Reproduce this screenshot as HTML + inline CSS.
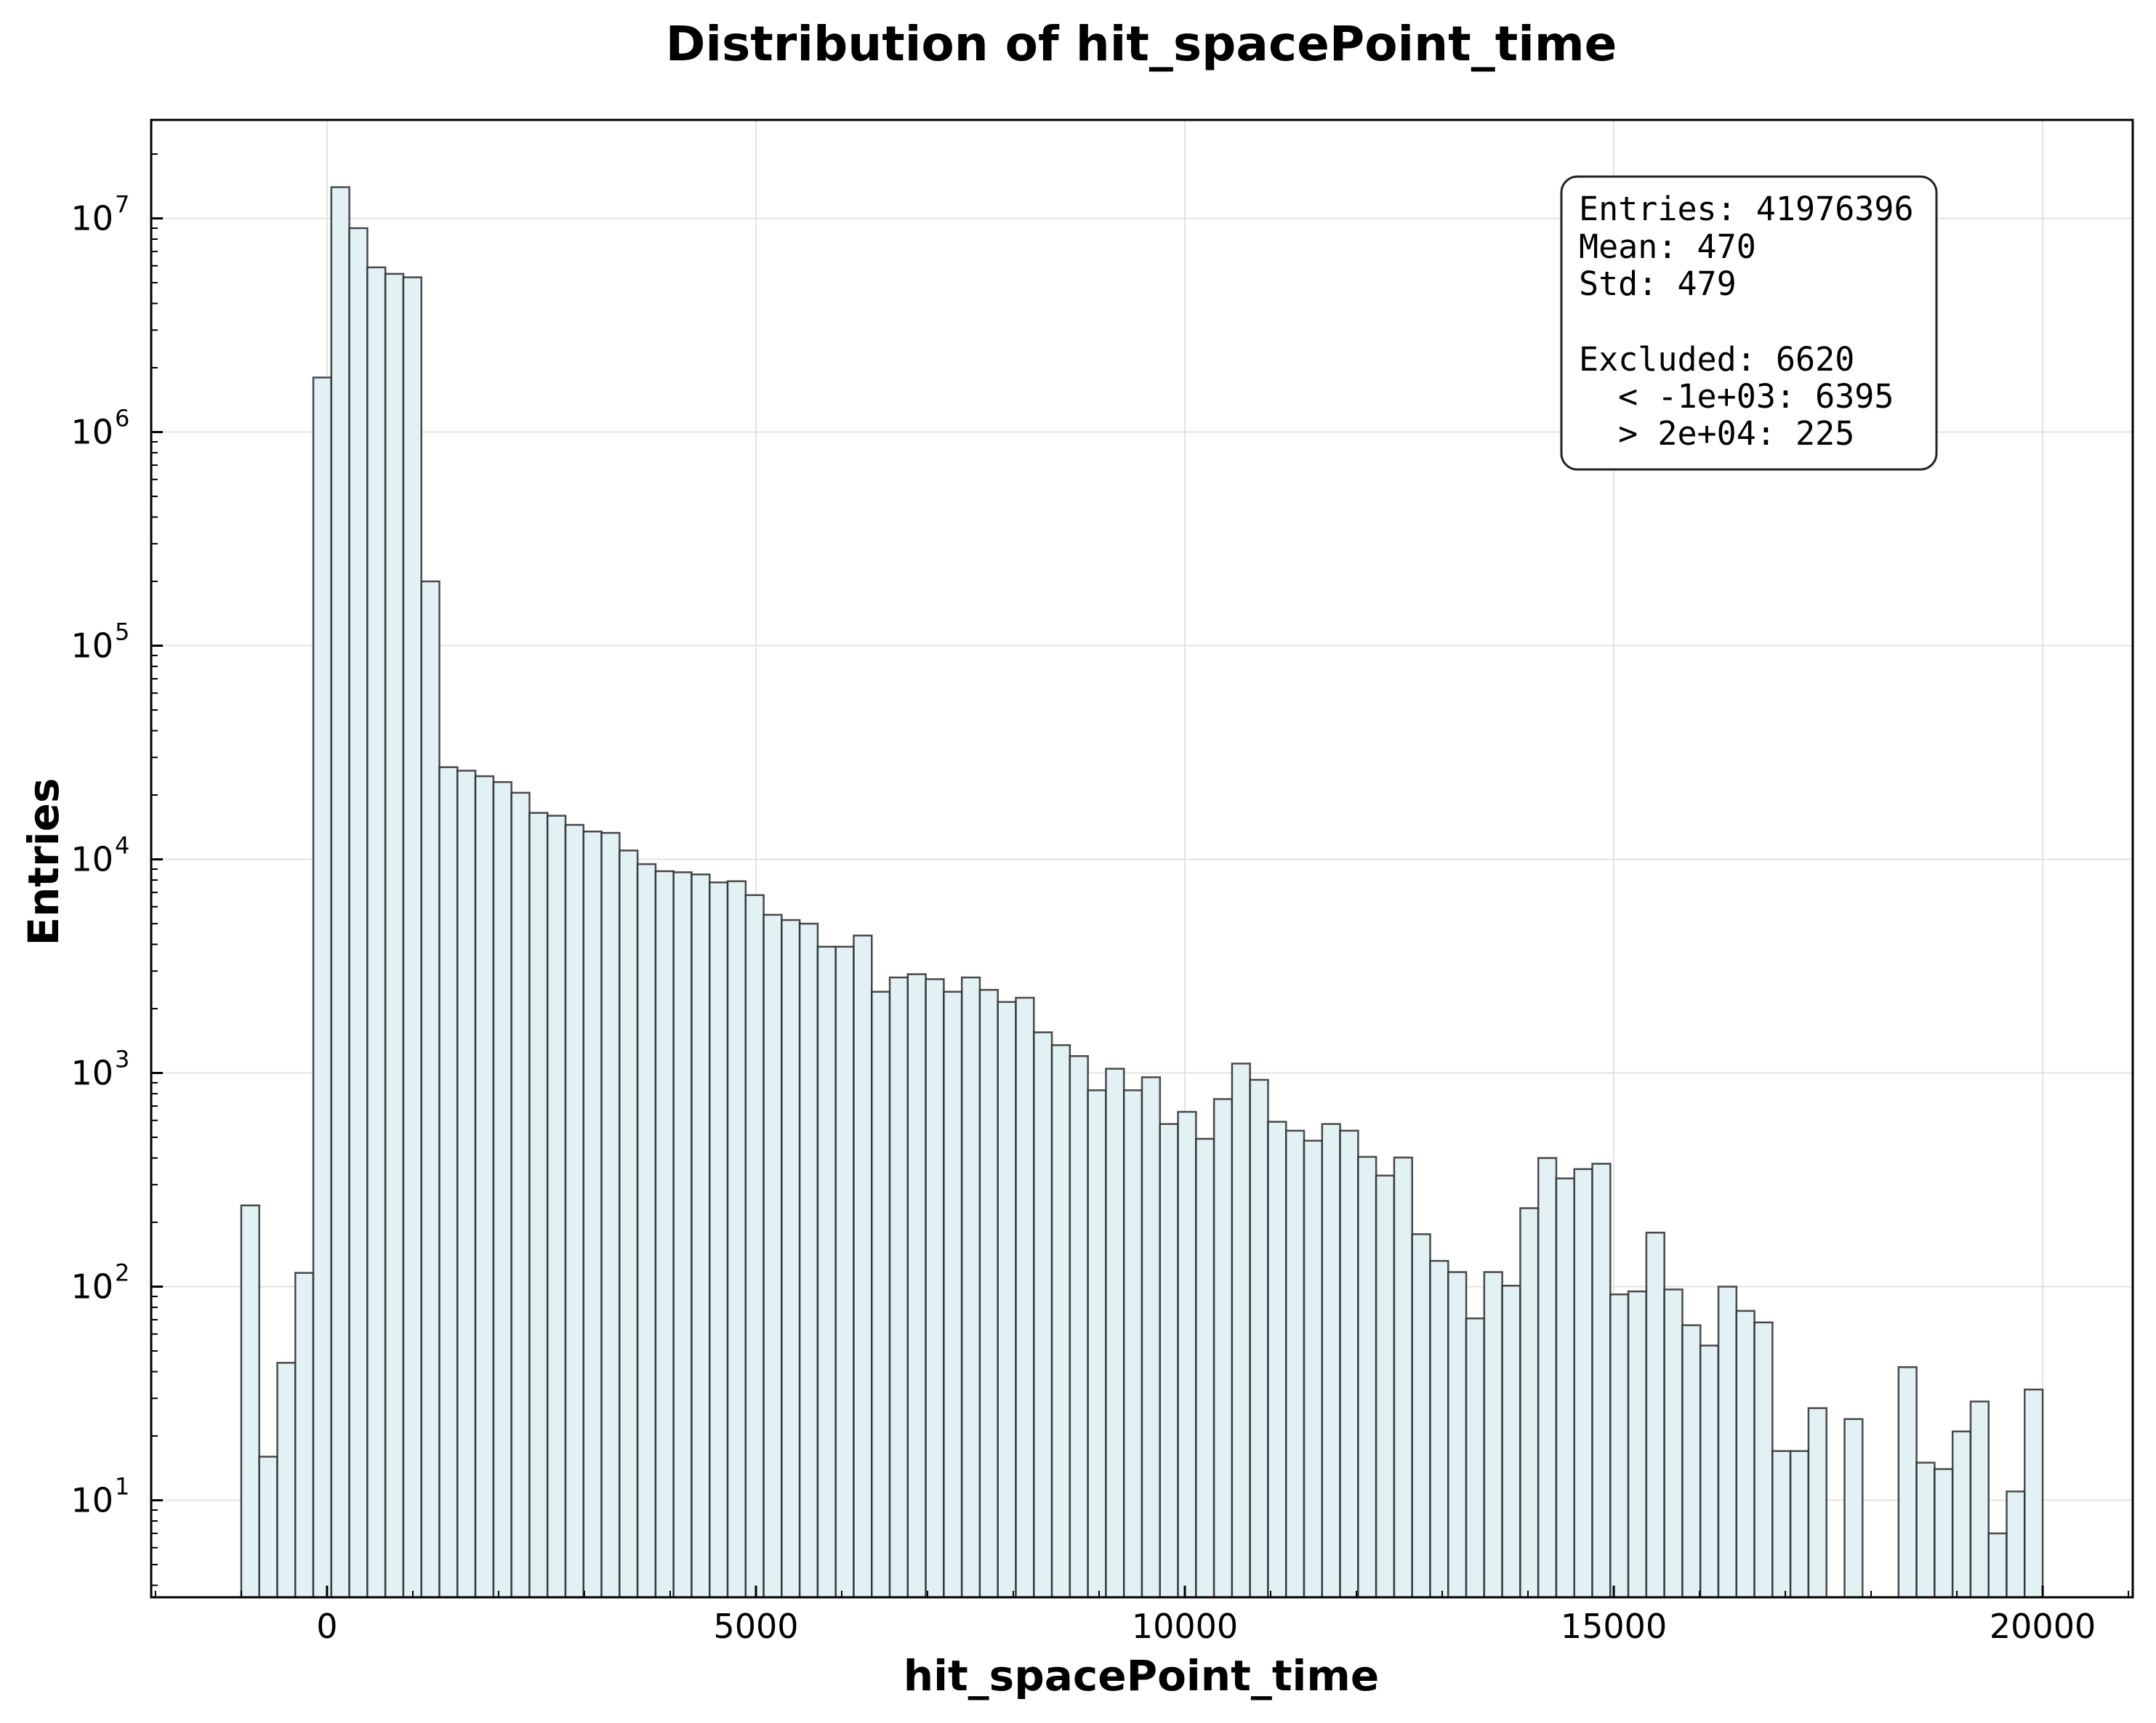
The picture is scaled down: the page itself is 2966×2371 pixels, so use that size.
<!DOCTYPE html>
<html><head><meta charset="utf-8">
<style>
html,body{margin:0;padding:0;background:#fff;}
svg text{font-family:"DejaVu Sans","Liberation Sans",sans-serif;}
</style></head>
<body>
<svg id="chart" width="2966" height="2366" viewBox="0 0 2966 2366" xmlns="http://www.w3.org/2000/svg">
<rect x="0" y="0" width="2966" height="2366" fill="#fff"/>
<text x="1570" y="83" text-anchor="middle" font-size="66" font-weight="bold" fill="#000">Distribution of hit_spacePoint_time</text>
<g id="grid"></g>
<g id="bars"></g>
<g id="axes"></g>
<text x="1570" y="2326" text-anchor="middle" font-size="58" font-weight="bold">hit_spacePoint_time</text>
<text transform="translate(80,1186) rotate(-90)" text-anchor="middle" font-size="58" font-weight="bold">Entries</text>
<g>
<rect x="2148" y="243" width="516" height="403" rx="22" ry="22" fill="#fff" stroke="#222" stroke-width="3"/>
<text x="2172" y="303" font-size="45" fill="#000" style="font-family:'DejaVu Sans Mono','Liberation Mono',monospace">
<tspan x="2172" y="303">Entries: 41976396</tspan>
<tspan x="2172" y="355">Mean: 470</tspan>
<tspan x="2172" y="406">Std: 479</tspan>
<tspan x="2172" y="510">Excluded: 6620</tspan>
<tspan x="2172" y="561" xml:space="preserve">  &lt; -1e+03: 6395</tspan>
<tspan x="2172" y="612" xml:space="preserve">  &gt; 2e+04: 225</tspan>
</text>
</g>
</svg>
<script>
const binStart = -1000;
const binWidth = 210;
const counts = [240,16,44,116,1800000,14000000,9000000,5900000,5500000,5300000,
200000,27000,26000,24500,23000,20500,16500,16000,14500,13500,
13300,11000,9500,8800,8700,8500,7800,7900,6800,5500,
5200,5000,3900,3900,4400,2400,2800,2900,2750,2400,
2800,2450,2150,2250,1550,1350,1200,830,1047,830,
955,577,658,492,755,1107,929,591,537,482,
577,537,405,331,402,176,132,117,71,117,
101,233,400,321,355,376,92,95,179,97,
66,53,100,77,68,17,17,27,0,24,
0,0,42,15,14,21,29,7,11,33];
const xTicks = [0,5000,10000,15000,20000];
const yTickExps = [1,2,3,4,5,6,7];

const L=208,R=2934,T=165,B=2198;
const xMin=-2050,xMax=21050;
const yTopExp=7.461,yBotExp=0.546;
function xs(v){return L+(v-xMin)/(xMax-xMin)*(R-L);}
function ys(v){const e=Math.log10(v);return T+(yTopExp-e)/(yTopExp-yBotExp)*(B-T);}
const NS="http://www.w3.org/2000/svg";
function mk(tag,attrs,parent){const e=document.createElementNS(NS,tag);for(const k in attrs)e.setAttribute(k,attrs[k]);parent.appendChild(e);return e;}
const grid=document.getElementById('grid'),bars=document.getElementById('bars'),axes=document.getElementById('axes');
xTicks.forEach(t=>{const g=mk('line',{x1:xs(t),x2:xs(t),y1:T,y2:B,stroke:'#e3e3e3','stroke-width':2},grid);

});
yTickExps.forEach(e=>{const y=ys(Math.pow(10,e));const g=mk('line',{x1:L,x2:R,y1:y,y2:y,stroke:'#e3e3e3','stroke-width':2},grid);

});
counts.forEach((c,i)=>{if(c<=0)return;const x0=xs(binStart+i*binWidth),x1=xs(binStart+(i+1)*binWidth);const y=ys(c);
const r=mk('rect',{x:x0,y:y,width:x1-x0,height:B-y,fill:'#e2f2f4',stroke:'#2a2a2a','stroke-width':2.5,'stroke-opacity':0.85},bars);

});
const frame=mk('rect',{x:L,y:T,width:R-L,height:B-T,fill:'none',stroke:'#000','stroke-width':3},axes);


for(let v=-2000;v<=21000;v+=1000){const major=xTicks.includes(v);const x=xs(v);
const tk=mk('line',{x1:x,x2:x,y1:B,y2:B-(major?16:9),stroke:'#000','stroke-width':major?3:2},axes);


if(major){const t=mk('text',{x:x,y:B+56,'text-anchor':'middle','font-size':46},axes);t.textContent=v;

}}
for(let e=0;e<=7;e++){for(let m=1;m<=9;m++){const v=m*Math.pow(10,e);const y=ys(v);if(y<T||y>B)continue;const major=m===1;
const tk=mk('line',{x1:L,x2:L+(major?16:9),y1:y,y2:y,stroke:'#000','stroke-width':major?3:2},axes);


if(major){const t=mk('text',{x:L-52,y:y+16,'text-anchor':'end','font-size':46},axes);t.textContent='10';


const s=mk('text',{x:L-50,y:y-8,'text-anchor':'start','font-size':32},axes);s.textContent=String(e);

}}}
</script>
</body></html>
